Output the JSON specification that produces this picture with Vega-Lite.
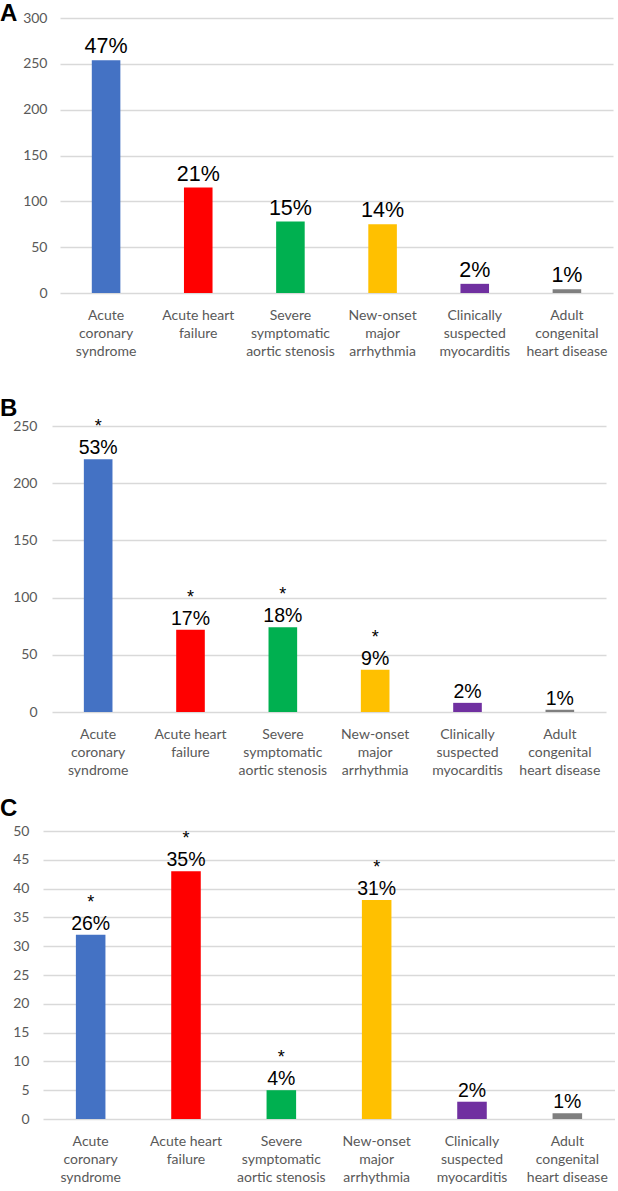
{
  "$schema": "https://vega.github.io/schema/vega-lite/v6.json",
  "background": "white",
  "padding": {"left": 0, "top": 2, "right": 0, "bottom": 0},
  "spacing": 20,
  "config": {
    "view": {"stroke": null},
    "title": {"font": "Liberation Sans", "fontSize": 24, "fontWeight": "bold", "color": "#000000", "anchor": "start", "frame": "group", "baseline": "alphabetic", "dx": -43},
    "axis": {"labelFont": "Lato", "labelFontSize": 14, "labelColor": "#595959", "domain": false, "ticks": false, "title": null, "gridColor": "#D9D9D9", "gridWidth": 1.5},
    "axisX": {"grid": false, "labelAngle": 0, "labelPadding": 15, "labelLineHeight": 18, "labelBaseline": "top"},
    "axisY": {"grid": true, "labelPadding": 13},
    "text": {"font": "Liberation Sans", "color": "#000000", "align": "center", "baseline": "alphabetic"}
  },
  "vconcat": [
    {
      "title": {"text": "A", "offset": -15},
      "width": 570,
      "height": 275,
      "data": {"values": [
        {"cat": "Acute coronary syndrome", "n": 254, "pct": "47%", "star": ""},
        {"cat": "Acute heart failure", "n": 115, "pct": "21%", "star": ""},
        {"cat": "Severe symptomatic aortic stenosis", "n": 78, "pct": "15%", "star": ""},
        {"cat": "New-onset major arrhythmia", "n": 75, "pct": "14%", "star": ""},
        {"cat": "Clinically suspected myocarditis", "n": 10, "pct": "2%", "star": ""},
        {"cat": "Adult congenital heart disease", "n": 4, "pct": "1%", "star": ""}
      ]},
      "encoding": {
        "x": {"field": "cat", "type": "nominal", "sort": null, "scale": {"range": [17, 570], "paddingInner": 0.69, "paddingOuter": 0.345},
          "axis": {"minExtent": 84, "maxExtent": 84, "labelExpr": "datum.value == 'Acute coronary syndrome' ? ['Acute','coronary','syndrome'] : datum.value == 'Acute heart failure' ? ['Acute heart','failure'] : datum.value == 'Severe symptomatic aortic stenosis' ? ['Severe','symptomatic','aortic stenosis'] : datum.value == 'New-onset major arrhythmia' ? ['New-onset','major','arrhythmia'] : datum.value == 'Clinically suspected myocarditis' ? ['Clinically','suspected','myocarditis'] : ['Adult','congenital','heart disease']"}},
        "y": {"field": "n", "type": "quantitative", "scale": {"domain": [0, 300]},
          "axis": {"values": [0, 50, 100, 150, 200, 250, 300], "offset": -17, "labelPadding": 13}}
      },
      "layer": [
        {"mark": {"type": "bar"},
         "encoding": {"color": {"field": "cat", "type": "nominal", "legend": null,
           "scale": {"domain": ["Acute coronary syndrome", "Acute heart failure", "Severe symptomatic aortic stenosis", "New-onset major arrhythmia", "Clinically suspected myocarditis", "Adult congenital heart disease"],
                     "range": ["#4472C4", "#FF0000", "#00B050", "#FFC000", "#7030A0", "#7F7F7F"]}}}},
        {"mark": {"type": "text", "fontSize": 21.5, "dy": -7}, "encoding": {"text": {"field": "pct"}}},
        {"mark": {"type": "text", "fontSize": 18, "dy": -28}, "encoding": {"text": {"field": "star"}}}
      ]
    },
    {
      "title": {"text": "B", "offset": -3},
      "width": 563,
      "height": 286,
      "data": {"values": [
        {"cat": "Acute coronary syndrome", "n": 221, "pct": "53%", "star": "*"},
        {"cat": "Acute heart failure", "n": 72, "pct": "17%", "star": "*"},
        {"cat": "Severe symptomatic aortic stenosis", "n": 74, "pct": "18%", "star": "*"},
        {"cat": "New-onset major arrhythmia", "n": 37, "pct": "9%", "star": "*"},
        {"cat": "Clinically suspected myocarditis", "n": 8, "pct": "2%", "star": ""},
        {"cat": "Adult congenital heart disease", "n": 2, "pct": "1%", "star": ""}
      ]},
      "encoding": {
        "x": {"field": "cat", "type": "nominal", "sort": null, "scale": {"range": [9, 563], "paddingInner": 0.69, "paddingOuter": 0.345},
          "axis": {"minExtent": 65, "maxExtent": 65, "labelExpr": "datum.value == 'Acute coronary syndrome' ? ['Acute','coronary','syndrome'] : datum.value == 'Acute heart failure' ? ['Acute heart','failure'] : datum.value == 'Severe symptomatic aortic stenosis' ? ['Severe','symptomatic','aortic stenosis'] : datum.value == 'New-onset major arrhythmia' ? ['New-onset','major','arrhythmia'] : datum.value == 'Clinically suspected myocarditis' ? ['Clinically','suspected','myocarditis'] : ['Adult','congenital','heart disease']"}},
        "y": {"field": "n", "type": "quantitative", "scale": {"domain": [0, 250]},
          "axis": {"values": [0, 50, 100, 150, 200, 250], "offset": -9, "labelPadding": 15}}
      },
      "layer": [
        {"mark": {"type": "bar"},
         "encoding": {"color": {"field": "cat", "type": "nominal", "legend": null,
           "scale": {"domain": ["Acute coronary syndrome", "Acute heart failure", "Severe symptomatic aortic stenosis", "New-onset major arrhythmia", "Clinically suspected myocarditis", "Adult congenital heart disease"],
                     "range": ["#4472C4", "#FF0000", "#00B050", "#FFC000", "#7030A0", "#7F7F7F"]}}}},
        {"mark": {"type": "text", "fontSize": 19.5, "dy": -5}, "encoding": {"text": {"field": "pct"}}},
        {"mark": {"type": "text", "fontSize": 18, "dy": -27}, "encoding": {"text": {"field": "star"}}}
      ]
    },
    {
      "title": {"text": "C", "offset": 3},
      "width": 572,
      "height": 288,
      "data": {"values": [
        {"cat": "Acute coronary syndrome", "n": 32, "pct": "26%", "star": "*"},
        {"cat": "Acute heart failure", "n": 43, "pct": "35%", "star": "*"},
        {"cat": "Severe symptomatic aortic stenosis", "n": 5, "pct": "4%", "star": "*"},
        {"cat": "New-onset major arrhythmia", "n": 38, "pct": "31%", "star": "*"},
        {"cat": "Clinically suspected myocarditis", "n": 3, "pct": "2%", "star": ""},
        {"cat": "Adult congenital heart disease", "n": 1, "pct": "1%", "star": ""}
      ]},
      "encoding": {
        "x": {"field": "cat", "type": "nominal", "sort": null, "scale": {"paddingInner": 0.69, "paddingOuter": 0.345},
          "axis": {"minExtent": 66, "maxExtent": 66, "labelExpr": "datum.value == 'Acute coronary syndrome' ? ['Acute','coronary','syndrome'] : datum.value == 'Acute heart failure' ? ['Acute heart','failure'] : datum.value == 'Severe symptomatic aortic stenosis' ? ['Severe','symptomatic','aortic stenosis'] : datum.value == 'New-onset major arrhythmia' ? ['New-onset','major','arrhythmia'] : datum.value == 'Clinically suspected myocarditis' ? ['Clinically','suspected','myocarditis'] : ['Adult','congenital','heart disease']"}},
        "y": {"field": "n", "type": "quantitative", "scale": {"domain": [0, 50]},
          "axis": {"values": [0, 5, 10, 15, 20, 25, 30, 35, 40, 45, 50], "labelPadding": 14}}
      },
      "layer": [
        {"mark": {"type": "bar"},
         "encoding": {"color": {"field": "cat", "type": "nominal", "legend": null,
           "scale": {"domain": ["Acute coronary syndrome", "Acute heart failure", "Severe symptomatic aortic stenosis", "New-onset major arrhythmia", "Clinically suspected myocarditis", "Adult congenital heart disease"],
                     "range": ["#4472C4", "#FF0000", "#00B050", "#FFC000", "#7030A0", "#7F7F7F"]}}}},
        {"mark": {"type": "text", "fontSize": 19.5, "dy": -5}, "encoding": {"text": {"field": "pct"}}},
        {"mark": {"type": "text", "fontSize": 18, "dy": -27}, "encoding": {"text": {"field": "star"}}}
      ]
    }
  ]
}
